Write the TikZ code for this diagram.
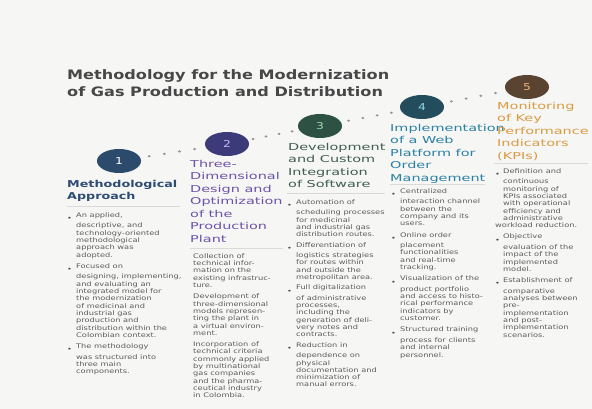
\documentclass[tikz,border=0pt]{standalone}
\usepackage{fontspec}
\setmainfont{DejaVu Sans}
\newfontfamily\titlef[FakeStretch=1.24]{DejaVu Sans}
\newfontfamily\headf[FakeStretch=1.52]{DejaVu Sans}
\newfontfamily\headbf[FakeStretch=1.34]{DejaVu Sans}
\newfontfamily\bodyf[FakeStretch=1.31]{DejaVu Sans}
\newfontfamily\numf[FakeStretch=1.3]{DejaVu Sans}
\usetikzlibrary{shapes.geometric}
\definecolor{bg}{HTML}{F6F6F5}
\definecolor{titlec}{HTML}{474747}
\definecolor{bodyc}{HTML}{5C5C5C}
\definecolor{bulc}{HTML}{4A4A4A}
\definecolor{sepc}{HTML}{DADADA}
\definecolor{dotc}{HTML}{939393}
\definecolor{fa}{HTML}{2C4A6B}\definecolor{na}{HTML}{FFFFFF}\definecolor{ha}{HTML}{2E4D74}
\definecolor{fb}{HTML}{3C3A78}\definecolor{nb}{HTML}{C9B8F0}\definecolor{hb}{HTML}{6C52A8}
\definecolor{fc}{HTML}{2D5243}\definecolor{nc}{HTML}{9FD8B0}\definecolor{hc}{HTML}{3F5D50}
\definecolor{fd}{HTML}{234D5C}\definecolor{nd}{HTML}{8ED6E8}\definecolor{hd}{HTML}{2A80A3}
\definecolor{fe}{HTML}{5A4431}\definecolor{ne}{HTML}{F0B878}\definecolor{he}{HTML}{D99A40}
\newcommand{\bu}{{\color{bulc}•}}
\begin{document}
\begin{tikzpicture}[x=1pt,y=-1pt,
  circ/.style={ellipse, minimum width=44pt, minimum height=24pt, inner sep=0pt, font=\numf\fontsize{9.5}{9.5}\selectfont},
  dotm/.style={ellipse, fill=dotc, minimum width=3.2pt, minimum height=2.4pt, inner sep=0pt},
  head/.style={anchor=north west, inner sep=0pt, align=left, font=\headf\fontsize{9.5}{12.5}\selectfont},
  body/.style={anchor=north west, inner sep=0pt, text=bodyc, font=\bodyf\fontsize{6.3}{7.3}\selectfont},
  sepl/.style={draw=sepc, line width=0.6pt}]
\path[fill=bg] (0,0) rectangle (592,409);
\useasboundingbox (0,0) rectangle (592,409);

% title
\node[anchor=north west, inner sep=0pt, align=left, text=titlec,
  font=\titlef\bfseries\fontsize{13}{17}\selectfont] (title) at (67,67.1)
  {\strut Methodology for the Modernization\\of Gas Production and Distribution};

% circles
\node[circ, fill=fa, text=na] (c1) at (119,161) {1};
\node[circ, fill=fb, text=nb] (c2) at (227,144) {2};
\node[circ, fill=fc, text=nc] (c3) at (320,126) {3};
\node[circ, fill=fd, text=nd] (c4) at (422,107) {4};
\node[circ, fill=fe, text=ne] (c5) at (527,87) {5};

% dotted trail
\foreach \a/\b in {c1/c2,c2/c3,c3/c4,c4/c5}{
  \path (\a.center) -- (\b.center)
    node[dotm, pos=0.28] (\a\b d1) {}
    node[dotm, pos=0.42] (\a\b d2) {}
    node[dotm, pos=0.56] (\a\b d3) {}
    node[dotm, pos=0.70] (\a\b d4) {};
}

% headings
\node[head, text=ha, font=\headbf\bfseries\fontsize{9.5}{12.5}\selectfont] (h1) at (67,178.2)
  {\strut Methodological\\Approach};
\node[head, text=hb] (h2) at (190,158.2)
  {\strut Three-\\Dimensional\\Design and\\Optimization\\of the\\Production\\Plant};
\node[head, text=hc] (h3) at (288,141.2)
  {\strut Development\\and Custom\\Integration\\of Software};
\node[head, text=hd] (h4) at (390,122.2)
  {\strut Implementation\\of a Web\\Platform for\\Order\\Management};
\node[head, text=he] (h5) at (497,100.2)
  {\strut Monitoring\\of Key\\Performance\\Indicators\\(KPIs)};

% separators
\coordinate (s1a) at (67,206);  \coordinate (s1b) at (180,206);
\coordinate (s2a) at (190,248); \coordinate (s2b) at (283,248);
\coordinate (s3a) at (287,193); \coordinate (s3b) at (385,193);
\coordinate (s4a) at (390,184); \coordinate (s4b) at (485,184);
\coordinate (s5a) at (494,163); \coordinate (s5b) at (588,163);
\draw[sepl] (s1a) -- (s1b);
\draw[sepl] (s2a) -- (s2b);
\draw[sepl] (s3a) -- (s3b);
\draw[sepl] (s4a) -- (s4b);
\draw[sepl] (s5a) -- (s5b);

% bullet lists
\node[body] (b1) at (67,212) {\begin{tabular}{@{}p{9pt}@{}l@{}}
\bu & An applied,\\ & descriptive, and\\ & technology-oriented\\ & methodological\\ & approach was\\ & adopted.\\[4pt]
\bu & Focused on\\ & designing, implementing,\\ & and evaluating an\\ & integrated model for\\ & the modernization\\ & of medicinal and\\ & industrial gas\\ & production and\\ & distribution within the\\ & Colombian context.\\[4pt]
\bu & The methodology\\ & was structured into\\ & three main\\ & components.
\end{tabular}};

\node[body] (b2) at (193,253) {\begin{tabular}{@{}l@{}}
Collection of\\ technical infor-\\ mation on the\\ existing infrastruc-\\ ture.\\[4pt]
Development of\\ three-dimensional\\ models represen-\\ ting the plant in\\ a virtual environ-\\ ment.\\[4pt]
Incorporation of\\ technical criteria\\ commonly applied\\ by multinational\\ gas companies\\ and the pharma-\\ ceutical industry\\ in Colombia.
\end{tabular}};

\node[body] (b3) at (287,199) {\begin{tabular}{@{}p{9pt}@{}l@{}}
\bu & Automation of\\ & scheduling processes\\ & for medicinal\\ & and industrial gas\\ & distribution routes.\\[3pt]
\bu & Differentiation of\\ & logistics strategies\\ & for routes within\\ & and outside the\\ & metropolitan area.\\[3pt]
\bu & Full digitalization\\ & of administrative\\ & processes,\\ & including the\\ & generation of deli-\\ & very notes and\\ & contracts.\\[3pt]
\bu & Reduction in\\ & dependence on\\ & physical\\ & documentation and\\ & minimization of\\ & manual errors.
\end{tabular}};

\node[body] (b4) at (391,188) {\begin{tabular}{@{}p{9pt}@{}l@{}}
\bu & Centralized\\ & interaction channel\\ & between the\\ & company and its\\ & users.\\[4pt]
\bu & Online order\\ & placement\\ & functionalities\\ & and real-time\\ & tracking.\\[4pt]
\bu & Visualization of the\\ & product portfolio\\ & and access to histo-\\ & rical performance\\ & indicators by\\ & customer.\\[4pt]
\bu & Structured training\\ & process for clients\\ & and internal\\ & personnel.
\end{tabular}};

\node[body] (b5) at (495,168) {\begin{tabular}{@{}p{8pt}@{}l@{}}
\bu & Definition and\\ & continuous\\ & monitoring of\\ & KPIs associated\\ & with operational\\ & efficiency and\\ & administrative\\ \multicolumn{2}{@{}l@{}}{workload reduction.}\\[4pt]
\bu & Objective\\ & evaluation of the\\ & impact of the\\ & implemented\\ & model.\\[4pt]
\bu & Establishment of\\ & comparative\\ & analyses between\\ & pre-\\ & implementation\\ & and post-\\ & implementation\\ & scenarios.
\end{tabular}};
\end{tikzpicture}
\end{document}
